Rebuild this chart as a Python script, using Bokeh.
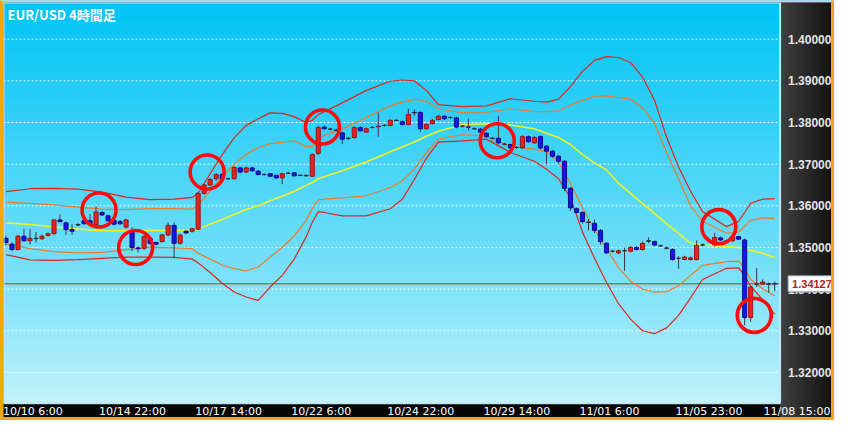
import numpy as np
from bokeh.plotting import figure
from bokeh.models import Range1d, ColumnDataSource
from bokeh.core.properties import value
from bokeh.embed import file_html
from bokeh.resources import INLINE

# ---------------- data ----------------
title_text = "EUR/USD 4時間足"
time_label_idx = [0, 16, 32, 48, 64, 80, 96, 112, 128]
time_labels = ["10/10 6:00", "10/14 22:00", "10/17 14:00", "10/22 6:00", "10/24 22:00",
               "10/29 14:00", "11/01 6:00", "11/05 23:00", "11/08 15:00"]
price_ticks = [1.32, 1.33, 1.34, 1.35, 1.36, 1.37, 1.38, 1.39, 1.40]
last_price = 1.34127

opens = [1.3522,1.3508,1.3495,1.3527,1.3516,1.3522,1.3521,1.3529,1.3533,1.3566,
         1.3559,1.3543,1.3554,1.3564,1.3564,1.3554,1.3584,1.3576,1.3565,1.3562,
         1.3549,1.3539,1.3499,1.3498,1.3522,1.3512,1.3514,1.3530,1.3553,1.3510,
         1.3539,1.3539,1.3544,1.3630,1.3650,1.3665,1.3675,1.3665,1.3665,1.3691,
         1.3681,1.3691,1.3683,1.3675,1.3677,1.3673,1.3667,1.3678,1.3679,1.3673,
         1.3673,1.3671,1.3726,1.3789,1.3784,1.3782,1.3775,1.3762,1.3764,1.3788,
         1.3777,1.3788,1.3790,1.3793,1.3793,1.3805,1.3802,1.3795,1.3823,1.3824,
         1.3785,1.3797,1.3807,1.3815,1.3812,1.3811,1.3791,1.3789,1.3785,1.3784,
         1.3774,1.3762,1.3762,1.3748,1.3747,1.3740,1.3739,1.3766,1.3751,1.3766,
         1.3743,1.3731,1.3719,1.3707,1.3642,1.3593,1.3584,1.3561,1.3558,1.3541,
         1.3510,1.3491,1.3487,1.3492,1.3491,1.3500,1.3495,1.3515,1.3514,1.3504,
         1.3499,1.3495,1.3474,1.3471,1.3471,1.3471,1.3506,1.3518,1.3506,1.3523,
         1.3516,1.3516,1.3526,1.3518,1.3332,1.3412,1.3412,1.3412,1.3413]
highs = [1.3528,1.3512,1.3530,1.3545,1.3544,1.3537,1.3531,1.3536,1.3568,1.3580,
         1.3562,1.3556,1.3558,1.3572,1.3580,1.3599,1.3588,1.3579,1.3567,1.3566,
         1.3569,1.3549,1.3502,1.3530,1.3526,1.3514,1.3533,1.3560,1.3560,1.3533,
         1.3541,1.3547,1.3633,1.3653,1.3667,1.3679,1.3679,1.3668,1.3695,1.3694,
         1.3694,1.3694,1.3686,1.3678,1.3679,1.3675,1.3679,1.3681,1.3681,1.3675,
         1.3676,1.3726,1.3792,1.3793,1.3787,1.3785,1.3778,1.3765,1.3791,1.3791,
         1.3788,1.3791,1.3824,1.3796,1.3808,1.3808,1.3805,1.3833,1.3832,1.3827,
         1.3798,1.3808,1.3818,1.3818,1.3815,1.3814,1.3794,1.3809,1.3788,1.3787,
         1.3777,1.3765,1.3816,1.3751,1.3749,1.3743,1.3769,1.3769,1.3767,1.3769,
         1.3746,1.3734,1.3722,1.3710,1.3645,1.3596,1.3587,1.3568,1.3567,1.3544,
         1.3513,1.3494,1.3495,1.3500,1.3503,1.3503,1.3514,1.3524,1.3517,1.3507,
         1.3502,1.3498,1.3479,1.3480,1.3478,1.3517,1.3510,1.3524,1.3535,1.3526,
         1.3519,1.3529,1.3528,1.3521,1.3408,1.3451,1.3423,1.3416,1.3418]
lows = [1.3505,1.3491,1.3493,1.3514,1.3507,1.3512,1.3518,1.3526,1.3531,1.3560,
        1.3530,1.3530,1.3551,1.3555,1.3553,1.3553,1.3576,1.3562,1.3553,1.3554,
        1.3546,1.3491,1.3488,1.3494,1.3507,1.3505,1.3512,1.3527,1.3474,1.3507,
        1.3532,1.3536,1.3542,1.3627,1.3647,1.3660,1.3662,1.3662,1.3663,1.3678,
        1.3679,1.3682,1.3673,1.3672,1.3669,1.3664,1.3652,1.3676,1.3670,1.3671,
        1.3670,1.3669,1.3722,1.3783,1.3781,1.3779,1.3748,1.3758,1.3761,1.3778,
        1.3775,1.3785,1.3766,1.3790,1.3791,1.3802,1.3793,1.3793,1.3816,1.3777,
        1.3783,1.3795,1.3805,1.3806,1.3809,1.3786,1.3788,1.3781,1.3782,1.3775,
        1.3763,1.3759,1.3747,1.3745,1.3736,1.3737,1.3737,1.3751,1.3749,1.3736,
        1.3700,1.3715,1.3702,1.3635,1.3588,1.3581,1.3557,1.3541,1.3535,1.3507,
        1.3484,1.3488,1.3484,1.3444,1.3488,1.3493,1.3493,1.3510,1.3503,1.3501,
        1.3495,1.3468,1.3449,1.3469,1.3469,1.3469,1.3503,1.3512,1.3503,1.3515,
        1.3512,1.3513,1.3518,1.3313,1.3322,1.3405,1.3410,1.3391,1.3395]
closes = [1.3512,1.3495,1.3527,1.3516,1.3522,1.3521,1.3527,1.3533,1.3566,1.3562,
          1.3543,1.3539,1.3555,1.3557,1.3556,1.3585,1.3578,1.3564,1.3556,1.3557,
          1.3566,1.3500,1.3497,1.3526,1.3510,1.3508,1.3530,1.3553,1.3510,1.3530,
          1.3535,1.3545,1.3630,1.3650,1.3663,1.3675,1.3665,1.3665,1.3692,1.3681,
          1.3691,1.3684,1.3675,1.3675,1.3671,1.3667,1.3677,1.3678,1.3672,1.3673,
          1.3672,1.3723,1.3788,1.3785,1.3784,1.3781,1.3760,1.3762,1.3788,1.3780,
          1.3785,1.3788,1.3791,1.3793,1.3805,1.3805,1.3795,1.3819,1.3824,1.3785,
          1.3795,1.3805,1.3815,1.3809,1.3812,1.3789,1.3791,1.3789,1.3785,1.3777,
          1.3766,1.3762,1.3751,1.3748,1.3739,1.3740,1.3766,1.3754,1.3764,1.3739,
          1.3731,1.3719,1.3707,1.3642,1.3595,1.3584,1.3562,1.3560,1.3541,1.3514,
          1.3487,1.3491,1.3492,1.3492,1.3500,1.3495,1.3510,1.3516,1.3506,1.3504,
          1.3498,1.3471,1.3474,1.3477,1.3475,1.3505,1.3506,1.3518,1.3524,1.3518,
          1.3516,1.3526,1.3520,1.3332,1.3405,1.3412,1.3417,1.3412,1.34127]

band_idx = [0,4,8,12,16,20,24,28,31,32,34,36,38,40,42,44,46,48,50,51,
            52,53,56,60,64,66,68,70,72,76,80,84,88,90,92,94,96,98,100,102,
            104,106,108,110,112,114,116,120,122,123,124,126,128]
band_mid = [1.3559,1.3555,1.3549,1.3544,1.3540,1.3540,1.3541,1.3541,1.3542,1.3544,
            1.3556,1.3567,1.3579,1.3591,1.3600,1.3612,1.3623,1.3635,1.3649,1.3656,
            1.3665,1.3670,1.3684,1.3705,1.3730,1.3742,1.3753,1.3767,1.3779,1.3795,
            1.3797,1.3794,1.3785,1.3774,1.3764,1.3747,1.3723,1.3703,1.3686,1.3654,
            1.3630,1.3606,1.3581,1.3557,1.3534,1.3510,1.3506,1.3502,1.3500,1.3497,
            1.3493,1.3486,1.3476]
band_up1 = [1.3609,1.3606,1.3602,1.3597,1.3592,1.3591,1.3593,1.3593,1.3592,1.3602,
            1.3635,1.3670,1.3700,1.3723,1.3740,1.3749,1.3753,1.3756,1.3742,1.3742,
            1.3758,1.3769,1.3784,1.3812,1.3840,1.3849,1.3856,1.3851,1.3833,1.3823,
            1.3824,1.3833,1.3826,1.3826,1.3828,1.3842,1.3853,1.3863,1.3864,1.3860,
            1.3856,1.3835,1.3798,1.3728,1.3665,1.3600,1.3563,1.3534,1.3537,1.3551,
            1.3565,1.3571,1.3570]
band_up2 = [1.3634,1.3641,1.3642,1.3640,1.3633,1.3621,1.3615,1.3616,1.3620,1.3630,
            1.3677,1.3723,1.3763,1.3793,1.3809,1.3823,1.3822,1.3814,1.3800,1.3805,
            1.3819,1.3826,1.3847,1.3877,1.3899,1.3902,1.3900,1.3877,1.3843,1.3838,
            1.3840,1.3857,1.3851,1.3849,1.3856,1.3886,1.3923,1.3949,1.3958,1.3956,
            1.3944,1.3909,1.3853,1.3765,1.3693,1.3635,1.3586,1.3550,1.3563,1.3584,
            1.3606,1.3616,1.3617]
band_lo1 = [1.3509,1.3497,1.3490,1.3487,1.3488,1.3495,1.3500,1.3499,1.3497,1.3486,
            1.3472,1.3458,1.3449,1.3444,1.3453,1.3477,1.3500,1.3528,1.3565,1.3593,
            1.3614,1.3616,1.3619,1.3624,1.3644,1.3660,1.3688,1.3728,1.3760,1.3771,
            1.3767,1.3743,1.3736,1.3730,1.3705,1.3653,1.3595,1.3542,1.3498,1.3451,
            1.3419,1.3400,1.3393,1.3394,1.3408,1.3433,1.3457,1.3466,1.3467,1.3449,
            1.3423,1.3401,1.3384]
band_lo2 = [1.3483,1.3470,1.3469,1.3471,1.3474,1.3477,1.3477,1.3476,1.3472,1.3463,
            1.3440,1.3414,1.3393,1.3381,1.3373,1.3405,1.3433,1.3472,1.3526,1.3560,
            1.3586,1.3584,1.3576,1.3576,1.3593,1.3616,1.3663,1.3714,1.3753,1.3756,
            1.3760,1.3728,1.3707,1.3688,1.3665,1.3619,1.3537,1.3474,1.3416,1.3365,
            1.3328,1.3300,1.3293,1.3307,1.3337,1.3379,1.3423,1.3450,1.3451,1.3433,
            1.3407,1.3374,1.3340]

circle_idx = [15.5, 21.6, 33.5, 52.7, 81.8, 118.7, 124.6]
circle_price = [1.3590, 1.3500, 1.3681, 1.3789, 1.3756, 1.3550, 1.3337]

# ---------------- layout constants ----------------
W, H = 834, 420                 # outer size incl. css border
CW, CH = W - 6, H - 5           # canvas size inside border
PLOT_W, PLOT_H = 771, 396       # price area in px
x_lo, x_plot_hi = -0.41, 128.9
y_plot_lo, y_hi = 1.3126, 1.4088
x_hi = x_lo + (x_plot_hi - x_lo) * CW / PLOT_W
y_lo = y_hi - (y_hi - y_plot_lo) * CH / PLOT_H
px_per_bar = PLOT_W / (x_plot_hi - x_lo)

p = figure(width=W, height=H, output_backend="svg", toolbar_location=None,
           x_range=Range1d(x_lo, x_hi), y_range=Range1d(y_lo, y_hi),
           x_axis_location=None, y_axis_location=None,
           min_border=0, min_border_left=0, min_border_right=0,
           min_border_top=0, min_border_bottom=0)
p.styles = {"border-style": "solid", "border-width": "2px 3px 3px 3px",
            "border-color": "#a9d6ea #f2a516 #f2a516 #f2a516"}
p.border_fill_color = "#101010"
p.background_fill_color = "#0c0c0c"
p.outline_line_color = None
p.grid.visible = False


def vgrad(top_c, bot_c, n=200, gamma=1.0):
    t = np.linspace(0.0, 1.0, n)[:, None]
    top_c = np.array(top_c, dtype=float)
    bot_c = np.array(bot_c, dtype=float)
    cols = bot_c + (top_c - bot_c) * (t ** gamma)
    img = np.zeros((n, 1), dtype=np.uint32)
    v = img.view(dtype=np.uint8).reshape((n, 1, 4))
    v[:, 0, 0] = cols[:, 0]; v[:, 0, 1] = cols[:, 1]; v[:, 0, 2] = cols[:, 2]; v[:, 0, 3] = 255
    return img


def hgrad(left_c, right_c, n=60):
    t = np.linspace(0.0, 1.0, n)
    l = np.array(left_c, dtype=float)
    r = np.array(right_c, dtype=float)
    img = np.zeros((1, n), dtype=np.uint32)
    v = img.view(dtype=np.uint8).reshape((1, n, 4))
    for k in range(3):
        v[0, :, k] = l[k] + (r[k] - l[k]) * t
    v[0, :, 3] = 255
    return img


# price-area background gradient
p.image_rgba(image=[vgrad([0, 196, 246], [198, 243, 252], gamma=0.85)],
             x=x_lo, y=y_plot_lo, dw=x_plot_hi - x_lo, dh=y_hi - y_plot_lo, level="image")
# right price-scale panel
p.image_rgba(image=[hgrad([64, 64, 64], [14, 14, 14])],
             x=x_plot_hi, y=y_lo, dw=x_hi - x_plot_hi, dh=y_hi - y_lo, level="image")
# bottom time-scale strip
p.quad(left=[x_lo], right=[x_plot_hi], bottom=[y_lo], top=[y_plot_lo],
       fill_color="#050505", line_color=None, level="image")

# horizontal dotted grid
p.segment(x0=[x_lo] * len(price_ticks), x1=[x_plot_hi] * len(price_ticks),
          y0=price_ticks, y1=price_ticks, line_color="white", line_dash="2 2",
          line_alpha=0.9, line_width=1)

# current price line
p.segment(x0=[x_lo], x1=[x_plot_hi], y0=[last_price], y1=[last_price],
          line_color="#c0302c", line_width=1)

# bands
p.line(band_idx, band_up2, line_color="#e3241f", line_width=1.2)
p.line(band_idx, band_lo2, line_color="#e3241f", line_width=1.2)
p.line(band_idx, band_up1, line_color="#ee7a2c", line_width=1.2)
p.line(band_idx, band_lo1, line_color="#ee7a2c", line_width=1.2)
p.line(band_idx, band_mid, line_color="#eef226", line_width=1.6)

# candles
idx = list(range(len(opens)))
tops, bots, fills, lines = [], [], [], []
for o, c in zip(opens, closes):
    tops.append(max(o, c))
    bots.append(min(o, c))
    if abs(c - o) < 0.00015:
        fills.append("#2b2b3a"); lines.append("#2b2b3a")
    elif c > o:
        fills.append("#e8221d"); lines.append("#9a1512")
    else:
        fills.append("#1616e4"); lines.append("#0c0c8c")
src = ColumnDataSource(dict(x=idx, high=highs, low=lows, top=tops, bottom=bots,
                            fill=fills, line=lines))
p.segment(x0="x", y0="low", x1="x", y1="high", source=src, line_color="#3a3a44", line_width=1)
p.vbar(x="x", width=0.68, top="top", bottom="bottom", source=src,
       fill_color="fill", line_color="line", line_width=1)

# highlight circles
p.scatter(circle_idx, circle_price, marker="circle", size=34, fill_color=None,
          line_color="#ff0a0a", line_width=3.6)

# price-area outline
p.quad(left=[x_lo], right=[x_plot_hi], bottom=[y_plot_lo], top=[y_hi],
       fill_color=None, line_color="#bfe7f6", line_width=2)

# title
p.text(x=[x_lo], y=[y_hi], text=[title_text], x_offset=4, y_offset=2,
       text_color="white", text_font=value("Noto Sans CJK JP"), text_font_size="13px",
       text_font_style="bold", text_baseline="top", text_align="left")

# price scale labels
p.text(x=[x_plot_hi] * len(price_ticks), y=price_ticks, text=[f"{v:.5f}" for v in price_ticks],
       x_offset=8, text_color="#e4e4e4", text_font=value("Liberation Sans"),
       text_font_size="12px", text_font_style="bold", text_baseline="middle", text_align="left")

# time labels (left-aligned at their bar; the last one is kept inside the canvas)
lab_x, lab_align, lab_off = [], [], []
for i, lab in zip(time_label_idx, time_labels):
    est_w = len(lab) * 6.2
    if (i - x_lo) * px_per_bar - 3 + est_w > CW - 2:
        lab_x.append(x_hi); lab_align.append("right"); lab_off.append(-7)
    else:
        lab_x.append(i); lab_align.append("left"); lab_off.append(-3)
p.text(x=lab_x, y=[y_plot_lo] * len(lab_x), text=time_labels, text_align=lab_align,
       x_offset=lab_off, y_offset=2, text_color="white", text_font=value("DejaVu Sans"),
       text_font_size="11px", text_baseline="top")

# last price box
p.text(x=[x_plot_hi], y=[last_price], text=[f"{last_price:.5f}"], x_offset=8,
       text_color="#b32220", text_font=value("Liberation Sans"), text_font_size="11px",
       text_font_style="bold", text_baseline="middle", text_align="left",
       background_fill_color="white", border_line_color="#8aa4c0", padding=4)

open("out.html", "w").write(file_html(p, INLINE))
